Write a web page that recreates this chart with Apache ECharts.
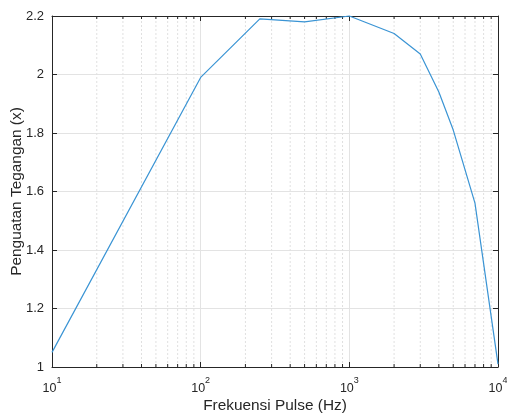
<!DOCTYPE html>
<html>
<head>
<meta charset="utf-8">
<script src="https://cdn.jsdelivr.net/npm/echarts@6/dist/echarts.min.js"></script>
<style>html,body{margin:0;padding:0;background:#fff}#c{width:507px;height:416px}</style>
</head>
<body>
<div id="c"></div>
<script>
const freq = [10, 100, 250, 500, 1000, 2000, 3000, 4000, 5000, 7000, 10000];
const gain = [1.05, 1.99, 2.19, 2.18, 2.20, 2.14, 2.07, 1.94, 1.81, 1.56, 1.01];
const minorTicks = [20,30,40,50,60,70,80,90,200,300,400,500,600,700,800,900,2000,3000,4000,5000,6000,7000,8000,9000];
const yTicks = [1, 1.2, 1.4, 1.6, 1.8, 2, 2.2];
const xLabel = 'Frekuensi Pulse (Hz)';
const yLabel = 'Penguatan Tegangan (x)';

const chart = echarts.init(document.getElementById('c'), null, {renderer: 'canvas'});
const axisColor = '#262626';
const font = 'Helvetica, Arial, "Liberation Sans", sans-serif';
const xBase = {
  type: 'log', logBase: 10, min: 10, max: 10000,
  axisLine: {show: true, lineStyle: {color: axisColor, width: 1}},
  axisTick: {show: true, inside: true, length: 5, lineStyle: {color: axisColor}},
  splitLine: {show: false}
};
chart.setOption({
  animation: false,
  grid: {left: 52, right: 9, top: 16, bottom: 49, containLabel: false, outerBoundsMode: 'none'},
  xAxis: [
    Object.assign({}, xBase, {
      position: 'bottom',
      splitLine: {show: true, lineStyle: {color: '#e3e3e3', width: 1}},
      name: xLabel, nameLocation: 'middle', nameGap: 31, nameMoveOverlap: false,
      nameTextStyle: {color: '#262626', fontSize: 15.4, fontFamily: font},
      axisLabel: {
        margin: 9,
        formatter: v => '{b|10}{s|' + Math.round(Math.log10(v)) + '}',
        rich: {
          b: {fontSize: 12.5, color: axisColor, fontFamily: font, verticalAlign: 'bottom', padding: [6,0,0,0]},
          s: {fontSize: 9, color: axisColor, fontFamily: font, verticalAlign: 'top', padding: [0,0,7,0]}
        }
      }
    }),
    Object.assign({}, xBase, {position: 'top', axisLabel: {show: false}})
  ],
  yAxis: [
    {
      type: 'value', min: 1, max: 2.2, interval: 0.2, position: 'left',
      axisLine: {show: true, lineStyle: {color: axisColor}},
      axisTick: {show: true, inside: true, length: 5, lineStyle: {color: axisColor}},
      splitLine: {show: true, lineStyle: {color: '#e3e3e3', width: 1}},
      axisLabel: {color: axisColor, fontSize: 13, fontFamily: font, margin: 8,
        formatter: v => { const t = yTicks.find(k => Math.abs(k - v) < 1e-6); return t === undefined ? '' : String(t); }},
      name: yLabel, nameLocation: 'middle', nameGap: 28, nameMoveOverlap: false,
      nameTextStyle: {color: '#262626', fontSize: 15.4, fontFamily: font}
    },
    {
      type: 'value', min: 1, max: 2.2, interval: 0.2, position: 'right',
      axisLine: {show: true, lineStyle: {color: axisColor}},
      axisTick: {show: true, inside: true, length: 5, lineStyle: {color: axisColor}},
      splitLine: {show: false}, axisLabel: {show: false}
    }
  ],
  series: [
    {
      type: 'custom', xAxisIndex: 0, yAxisIndex: 0, silent: true, z: 1,
      data: minorTicks.map(v => [v]),
      encode: {x: 0},
      renderItem: function (params, api) {
        const v = api.value(0);
        const pb = api.coord([v, 1]);
        const pt = api.coord([v, 2.2]);
        return {
          type: 'group',
          children: [
            {type: 'line', shape: {x1: pb[0], y1: pb[1], x2: pt[0], y2: pt[1]},
             style: {stroke: '#e0e0e0', lineWidth: 1, lineDash: [2, 2]}},
            {type: 'line', shape: {x1: pb[0], y1: pb[1], x2: pb[0], y2: pb[1] - 3},
             style: {stroke: axisColor, lineWidth: 1}},
            {type: 'line', shape: {x1: pt[0], y1: pt[1], x2: pt[0], y2: pt[1] + 3},
             style: {stroke: axisColor, lineWidth: 1}}
          ]
        };
      }
    },
    {
      type: 'line', xAxisIndex: 0, yAxisIndex: 0, z: 3,
      data: freq.map((f, i) => [f, gain[i]]),
      showSymbol: false, symbol: 'none',
      lineStyle: {color: '#3a94d4', width: 1.2},
      clip: false
    }
  ]
});
</script>
</body>
</html>
